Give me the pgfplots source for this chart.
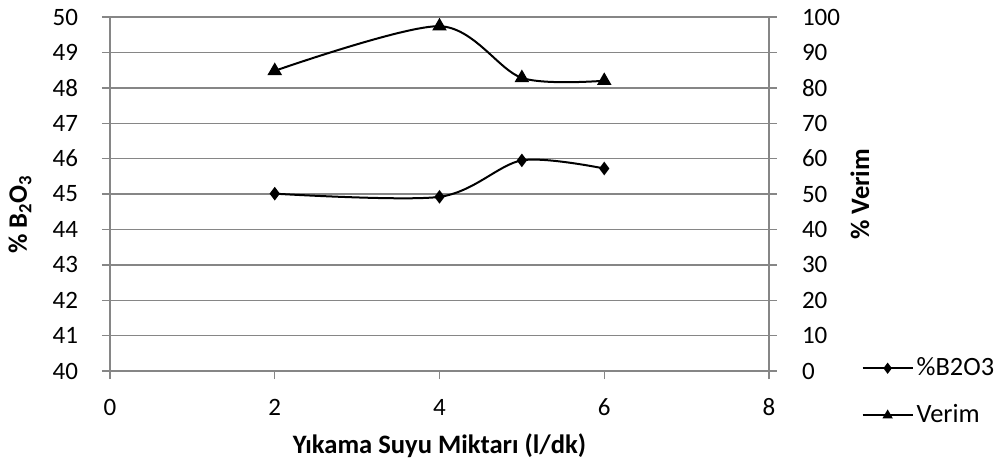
\documentclass[border=0pt]{standalone}
\usepackage{fontspec}
\setmainfont{Carlito}
\usepackage{pgfplots}
\pgfplotsset{compat=1.18}
\definecolor{gridgray}{RGB}{134,134,134}

\begin{document}
\begin{tikzpicture}[x=1pt,y=1pt]
% page frame (0.5pt per pixel of a 1000x463 canvas)
\path[use as bounding box] (-55pt,-46pt) rectangle (445pt,185.5pt);

\pgfplotsset{
  base/.style={
    scale only axis, width=329.5pt, height=177pt,
    xmin=0, xmax=8, xtick={0,2,4,6,8},
    font=\fontsize{12.5}{15}\selectfont,
    /pgf/number format/assume math mode=true,
    axis line style={gridgray, line width=0.7pt},
    major tick style={gridgray, line width=0.7pt},
    tick align=outside, major tick length=4pt,
    label style={font=\fontsize{13.3}{16}\selectfont\bfseries},
  },
  bstyle/.style={black, line width=1pt, smooth, tension=0.5, mark=diamond*, mark size=2.6pt, mark options={solid, fill=black}},
  vstyle/.style={black, line width=1pt, smooth, tension=0.5, mark=triangle*, mark size=3.2pt, mark options={solid, fill=black}},
}

\begin{axis}[base,
  ymin=40, ymax=50, ytick={40,41,...,50},
  axis y line*=left, axis x line*=bottom,
  ymajorgrids, grid style={gridgray, line width=0.7pt},
  yticklabel style={anchor=east, xshift=-8.5pt},
  xticklabel style={anchor=center, yshift=-14pt},
  xlabel={Yıkama Suyu Miktarı (l/dk)},
  xlabel style={at={(rel axis cs:0.5,0)}, anchor=center, yshift=-37.5pt},
  ylabel={\% B\textsubscript{2}O\textsubscript{3}},
  ylabel style={at={(rel axis cs:0,0.443)}, anchor=center, rotate=0, yshift=45pt},
]
\addplot[bstyle] coordinates {(2,45.01) (4,44.92) (5,45.95) (6,45.72)};
\end{axis}

\begin{axis}[base,
  ymin=0, ymax=100, ytick={0,10,...,100},
  axis y line*=right, axis x line=none,
  yticklabel style={anchor=west, xshift=9pt},
  ylabel={\% Verim},
  ylabel style={at={(rel axis cs:1,0.499)}, anchor=center, yshift=-45.5pt},
  legend style={draw=none, fill=none, at={(rel axis cs:1.14,0.047)}, anchor=north west,
    inner sep=0pt, row sep=10pt, font=\fontsize{13.2}{15}\selectfont,
    nodes={inner sep=1.5pt}},
  legend cell align=left,
  legend image code/.code={\draw[#1, mark size=2pt, mark repeat=2, mark phase=2]
    plot coordinates {(0pt,0pt) (12.5pt,0pt) (25pt,0pt)};},
]
\addlegendimage{bstyle}
\addlegendentry{\%B2O3}
\addplot[vstyle] coordinates {(2,84.8) (4,97.4) (5,82.8) (6,82.0)};
\addlegendentry{Verim}
\end{axis}
\end{tikzpicture}
\end{document}
